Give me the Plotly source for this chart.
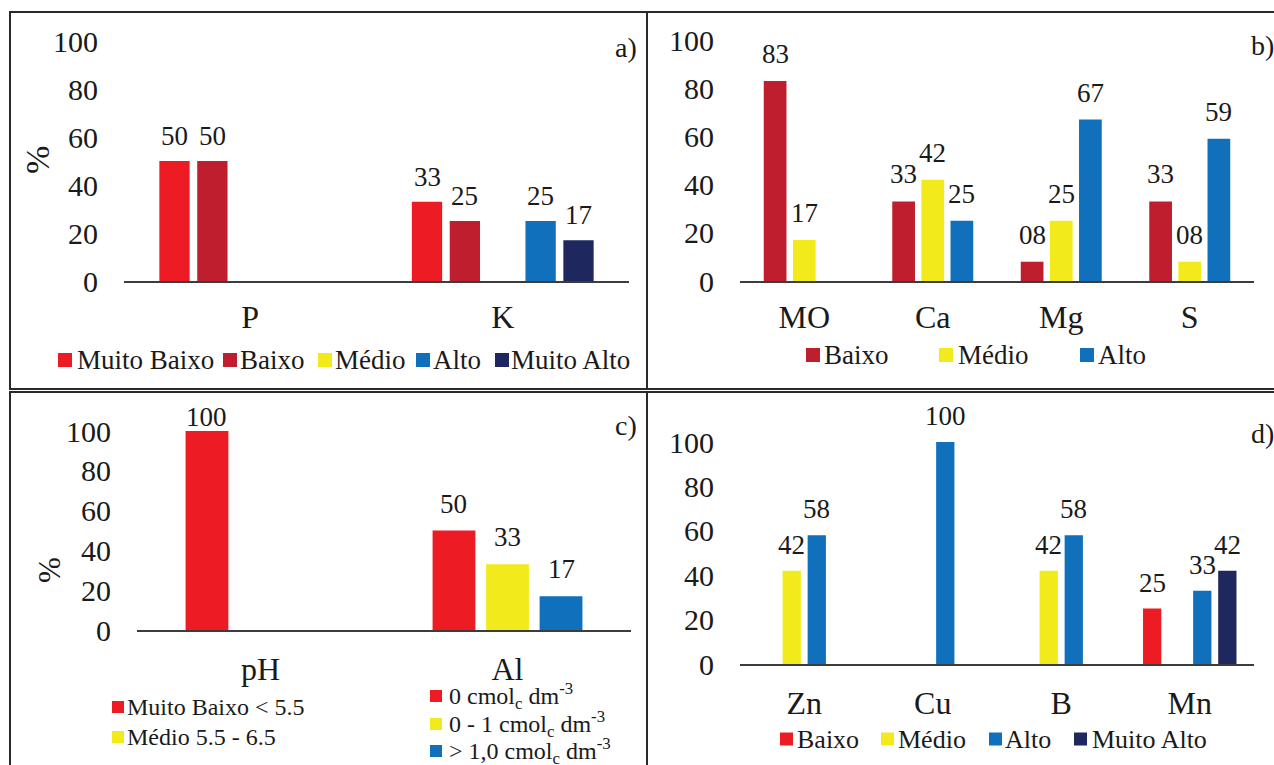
import plotly.graph_objects as go

# ---------------------------------------------------------------- data
y_ticks = [0, 20, 40, 60, 80, 100]

# a) P and K
cats_a = ["P", "K"]
a_muito_baixo = [50, 33]
a_baixo = [50, 25]
a_medio = [None, None]
a_alto = [None, 25]
a_muito_alto = [None, 17]
legend_a = ["Muito Baixo", "Baixo", "Médio", "Alto", "Muito Alto"]

# b) organic matter and macronutrients
cats_b = ["MO", "Ca", "Mg", "S"]
b_baixo = [83, 33, 8, 33]
b_medio = [17, 42, 25, 8]
b_alto = [None, 25, 67, 59]
legend_b = ["Baixo", "Médio", "Alto"]

# c) pH and aluminium
cats_c = ["pH", "Al"]
c_faixa1 = [100, 50]
c_faixa2 = [None, 33]
c_faixa3 = [None, 17]
legend_c_ph = ["Muito Baixo < 5.5", "Médio 5.5 - 6.5"]
legend_c_al = [
    "0 cmol<sub>c</sub> dm<sup>-3</sup>",
    "0 - 1 cmol<sub>c</sub> dm<sup>-3</sup>",
    "> 1,0 cmol<sub>c</sub> dm<sup>-3</sup>",
]

# d) micronutrients
cats_d = ["Zn", "Cu", "B", "Mn"]
d_baixo = [None, None, None, 25]
d_medio = [42, None, 42, None]
d_alto = [58, 100, 58, 33]
d_muito_alto = [None, None, None, 42]
legend_d = ["Baixo", "Médio", "Alto", "Muito Alto"]

panel_tags = ["a)", "b)", "c)", "d)"]

# ---------------------------------------------------------------- style
W, H = 1274, 765
FONT = "Liberation Serif, Times New Roman, serif"
INK = "#1a1a1a"
RED = "#ED1C24"
DARK_RED = "#BE1E2D"
YELLOW = "#F2EA1A"
BLUE = "#1170BB"
NAVY = "#1E275E"


def px(x):
    return x / W


def py(y):
    return 1 - y / H


panels = [
    dict(ax="", cats=cats_a, x0=124, x1=629, ybase=281, ytop=41,
         gap=0.25, groupgap=0.2, pad=25, ceiling=0, xticklen=7,
         series=[(a_muito_baixo, RED), (a_baixo, DARK_RED), (a_medio, YELLOW),
                 (a_alto, BLUE), (a_muito_alto, NAVY)]),
    dict(ax="2", cats=cats_b, x0=740, x1=1254, ybase=281, ytop=40,
         gap=0.32, groupgap=0.22, pad=27, ceiling=0, xticklen=7,
         series=[(b_baixo, DARK_RED), (b_medio, YELLOW), (b_alto, BLUE)]),
    dict(ax="3", cats=cats_c, x0=137, x1=631, ybase=630, ytop=431,
         gap=0.35, groupgap=0.2, pad=27, ceiling=417, xticklen=10,
         series=[(c_faixa1, RED), (c_faixa2, YELLOW), (c_faixa3, BLUE)]),
    dict(ax="4", cats=cats_d, x0=740, x1=1254, ybase=664, ytop=442,
         gap=0.22, groupgap=0.27, pad=26, ceiling=0, xticklen=10,
         series=[(d_baixo, RED), (d_medio, YELLOW), (d_alto, BLUE),
                 (d_muito_alto, NAVY)]),
]

fig = go.Figure()
annotations = []
shapes = []
layout_axes = {}

for p in panels:
    xa, ya = "x" + p["ax"], "y" + p["ax"]
    n = len(p["series"])
    slot = (1 - p["gap"]) / n
    width = slot * (1 - p["groupgap"])
    unit_px = (p["ybase"] - p["ytop"]) / 100.0
    for j, (vals, color) in enumerate(p["series"]):
        offset = -(1 - p["gap"]) / 2 + j * slot + slot * p["groupgap"] / 2
        fig.add_trace(go.Bar(
            x=p["cats"], y=vals, width=width, offset=offset,
            marker=dict(color=color, line=dict(width=0)),
            xaxis=xa, yaxis=ya, showlegend=False,
        ))
        for i, v in enumerate(vals):
            if v is None:
                continue
            top_px = p["ybase"] - v * unit_px
            centre_px = max(top_px - p["pad"], p["ceiling"])
            annotations.append(dict(
                x=i + offset + width / 2, y=v, xref=xa, yref=ya,
                text=f"{v:02d}", showarrow=False, yanchor="middle",
                yshift=top_px - centre_px,
                font=dict(family=FONT, size=27, color=INK),
            ))
    key = p["ax"]
    layout_axes["xaxis" + key] = dict(
        domain=[px(p["x0"]), px(p["x1"])], anchor=ya, type="category",
        range=[-0.5, len(p["cats"]) - 0.5], showgrid=False, zeroline=False,
        showline=True, linecolor="#3c3c3c", linewidth=1.5, automargin=False,
        ticks="outside", ticklen=p["xticklen"], tickcolor="rgba(0,0,0,0)",
        tickfont=dict(family=FONT, size=32, color=INK), fixedrange=True,
    )
    layout_axes["yaxis" + key] = dict(
        domain=[py(p["ybase"]), py(p["ytop"])], anchor=xa, automargin=False,
        range=[0, 100], tickvals=y_ticks, showgrid=False, zeroline=False,
        showline=False, ticks="outside", ticklen=19,
        tickcolor="rgba(0,0,0,0)",
        tickfont=dict(family=FONT, size=30, color=INK), fixedrange=True,
    )

# axis titles
for x, y, size in [(37, 160, 34), (49, 570, 31)]:
    annotations.append(dict(x=px(x), y=py(y), xref="paper", yref="paper",
                            text="%", textangle=-90, showarrow=False,
                            xanchor="center", yanchor="middle",
                            font=dict(family=FONT, size=size, color=INK)))

# panel tags
for tag, (x, y) in zip(panel_tags, [(626, 47), (1262, 45), (626, 425), (1262, 433)]):
    annotations.append(dict(x=px(x), y=py(y), xref="paper", yref="paper",
                            text=tag, showarrow=False, xanchor="center",
                            yanchor="middle",
                            font=dict(family=FONT, size=28, color=INK)))


def add_legend(labels, colors, sq_x, txt_x, ys, size, font_size):
    for lab, col, sx, tx, yc in zip(labels, colors, sq_x, txt_x, ys):
        shapes.append(dict(type="rect", xref="paper", yref="paper",
                           x0=px(sx), x1=px(sx + size),
                           y0=py(yc + size / 2), y1=py(yc - size / 2),
                           fillcolor=col, line=dict(width=0)))
        annotations.append(dict(x=px(tx - 2), y=py(yc), xref="paper",
                                yref="paper", text=lab, showarrow=False,
                                xanchor="left", yanchor="middle",
                                font=dict(family=FONT, size=font_size,
                                          color=INK)))


add_legend(legend_a, [RED, DARK_RED, YELLOW, BLUE, NAVY],
           [58, 223, 318, 416, 495], [77, 240, 335, 433, 511], [360] * 5, 14, 27)
add_legend(legend_b, [DARK_RED, YELLOW, BLUE],
           [806, 939, 1080], [824, 958, 1098], [355] * 3, 14, 27)
add_legend(legend_c_ph, [RED, YELLOW], [112, 112], [127, 127], [707, 737], 12, 24)
add_legend(legend_c_al, [RED, YELLOW, BLUE], [430, 430, 430], [449, 449, 449],
           [696, 724, 751], 12, 24)
add_legend(legend_d, [RED, YELLOW, BLUE, NAVY],
           [780, 881, 989, 1074], [797, 898, 1005, 1092], [739] * 4, 13, 26)

# panel frames
for x0, y0, x1, y1 in [(10, 12, 647, 389), (647, 12, 1278, 389),
                       (10, 392, 647, 770), (647, 392, 1278, 770)]:
    shapes.append(dict(type="rect", xref="paper", yref="paper",
                       x0=px(x0), x1=px(x1), y0=py(y1), y1=py(y0),
                       line=dict(color="#2a2a2a", width=2),
                       fillcolor="rgba(0,0,0,0)"))

fig.update_layout(
    template="none",
    width=W, height=H, margin=dict(l=0, r=0, t=0, b=0, autoexpand=False),
    paper_bgcolor="white", plot_bgcolor="white",
    barmode="overlay", showlegend=False,
    annotations=annotations, shapes=shapes, **layout_axes,
)

fig.write_html("out.html")
